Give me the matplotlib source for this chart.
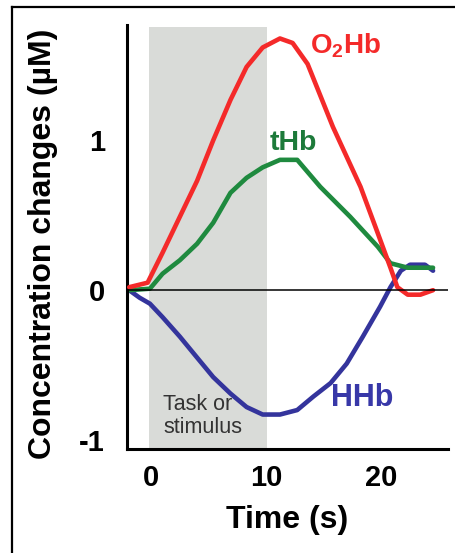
import matplotlib
matplotlib.use("Agg")
import matplotlib.pyplot as plt
from matplotlib.lines import Line2D

plt.rcParams['font.family'] = ['Liberation Sans', 'DejaVu Sans']
plt.rcParams['axes.unicode_minus'] = False

# --- data ---
t_o2hb = [-1.9, -0.3, 1.0, 2.5, 4.0, 5.4, 6.9, 8.3, 9.7, 11.2, 12.3, 13.6, 15.8, 18.2, 19.7, 20.8, 21.4, 22.3, 23.4, 24.5]
o2hb = [0.02, 0.05, 0.25, 0.49, 0.73, 1.0, 1.27, 1.49, 1.62, 1.68, 1.65, 1.51, 1.09, 0.69, 0.38, 0.15, 0.02, -0.03, -0.03, 0.0]

t_thb = [-1.9, -0.1, 1.0, 2.5, 4.0, 5.4, 6.9, 8.3, 9.7, 11.2, 12.7, 14.7, 17.3, 19.7, 20.8, 22.3, 24.5]
thb = [0.0, 0.01, 0.11, 0.2, 0.31, 0.45, 0.65, 0.75, 0.82, 0.87, 0.87, 0.69, 0.49, 0.29, 0.18, 0.15, 0.15]

t_hhb = [-1.9, -1.0, -0.1, 1.0, 2.5, 4.0, 5.4, 6.9, 8.3, 9.7, 11.2, 12.7, 14.1, 15.6, 17.0, 18.4, 19.9, 20.8, 21.7, 22.5, 23.8, 24.5]
hhb = [0.0, -0.05, -0.09, -0.18, -0.31, -0.45, -0.58, -0.69, -0.78, -0.83, -0.83, -0.80, -0.71, -0.62, -0.49, -0.31, -0.11, 0.02, 0.13, 0.17, 0.17, 0.13]

task_window = [-0.2, 10.1]
x_ticks = [0, 10, 20]
y_ticks = [-1, 0, 1]

W, H = 456, 553
fig = plt.figure(figsize=(W / 100, H / 100), dpi=100)
ax = fig.add_axes([127 / W, (H - 449) / H, (448 - 127) / W, (449 - 25) / H])

ax.set_xlim(-2.09, 25.8)
ax.set_ylim(-1.06, 1.77)

ax.axvspan(task_window[0], task_window[1], ymin=0, ymax=0.995, color='#d9dbd8', lw=0, zorder=0)
ax.axhline(0, color='black', lw=1.1, zorder=4)

ax.plot(t_hhb, hhb, color='#34349c', lw=3.3, zorder=2, solid_joinstyle='round', solid_capstyle='round')
ax.plot(t_thb, thb, color='#1f8a3f', lw=3.3, zorder=2.5, solid_joinstyle='round', solid_capstyle='round')
ax.plot(t_o2hb, o2hb, color='#f42a2a', lw=3.3, zorder=3, solid_joinstyle='round', solid_capstyle='round')

ax.text(13.8, 1.63, r'O$_\mathregular{2}$Hb', color='#f42a2a', fontsize=20, fontweight='bold', ha='left', va='center')
ax.text(10.3, 0.98, 'tHb', color='#1d7a3a', fontsize=20.5, fontweight='bold', ha='left', va='center')
ax.text(15.6, -0.72, 'HHb', color='#3838a8', fontsize=22, fontweight='bold', ha='left', va='center')
ax.text(1.05, -0.84, 'Task or\nstimulus', color='#333333', fontsize=15.5, ha='left', va='center',
        linespacing=1.15)

for s in ['top', 'right']:
    ax.spines[s].set_visible(False)
for s in ['left', 'bottom']:
    ax.spines[s].set_linewidth(2.2)

ax.set_xticks(x_ticks)
ax.set_yticks(y_ticks)
ax.tick_params(axis='x', length=0, pad=11, labelsize=21)
ax.tick_params(axis='y', length=0, pad=16, labelsize=21)
for lab in ax.get_xticklabels() + ax.get_yticklabels():
    lab.set_fontweight('bold')

fig.text(43 / W, 1 - 244 / H, 'Concentration changes (µM)', rotation=90,
         ha='center', va='center', fontsize=23, fontweight='bold')
fig.text(287 / W, 1 - 520 / H, 'Time (s)', ha='center', va='center', fontsize=23, fontweight='bold')

# outer frame (clipped on right and bottom)
fig.add_artist(Line2D([12 / W, 12 / W], [0, 1 - 7 / H], transform=fig.transFigure, color='black', lw=1.6))
fig.add_artist(Line2D([12 / W, 1], [1 - 7 / H, 1 - 7 / H], transform=fig.transFigure, color='black', lw=1.6))

fig.savefig('out.png', dpi=100)
